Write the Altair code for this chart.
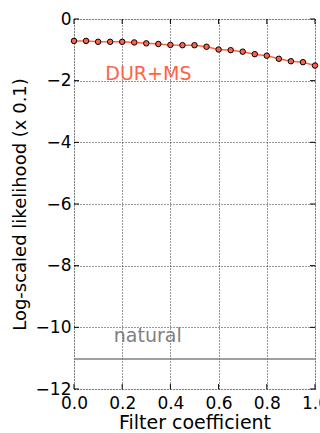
import altair as alt
import pandas as pd

filter_coef = [0.0, 0.05, 0.1, 0.15, 0.2, 0.25, 0.3, 0.35, 0.4, 0.45, 0.5,
               0.55, 0.6, 0.65, 0.7, 0.75, 0.8, 0.85, 0.9, 0.95, 1.0]
dur_ms = [-0.71, -0.71, -0.74, -0.74, -0.74, -0.76, -0.79, -0.81, -0.84, -0.85, -0.85,
          -0.90, -0.99, -1.01, -1.06, -1.14, -1.19, -1.29, -1.37, -1.40, -1.51]
natural_level = [-11.03]
labels = ["DUR+MS", "natural"]
label_x = [0.13, 0.165]
label_y = [-1.79, -10.27]
y_ticks = [0, -2, -4, -6, -8, -10, -12]
x_ticks = [0.0, 0.2, 0.4, 0.6, 0.8, 1.0]

RED = "#ff6347"
GRAY = "#808080"
FONT = "DejaVu Sans"
W, H = 241, 370

df = pd.DataFrame({"x": filter_coef, "y": dur_ms})
nat = pd.DataFrame({"y": natural_level})
lab = pd.DataFrame({"t": labels, "x": label_x, "y": label_y, "c": [RED, GRAY]})
yt = pd.DataFrame({"y": y_ticks})
xt = pd.DataFrame({"x": x_ticks})

xs = alt.Scale(domain=[0, 1], nice=False, zero=False)
ys = alt.Scale(domain=[-12, 0], nice=False, zero=False)

xaxis = alt.Axis(values=x_ticks, format=".1f", title="Filter coefficient",
                 grid=True, gridColor="black", gridDash=[1, 2], gridOpacity=0.8,
                 domain=False, ticks=False, labelFontSize=17, labelFont=FONT,
                 labelColor="black", titleFontSize=19, titleFont=FONT,
                 titleFontWeight="normal", titleColor="black", labelPadding=6,
                 titlePadding=2, labelFlush=False)
yaxis = alt.Axis(values=y_ticks, format="d", title="Log-scaled likelihood (x 0.1)",
                 grid=True, gridColor="black", gridDash=[1, 2], gridOpacity=0.8,
                 domain=False, ticks=False, labelFontSize=17, labelFont=FONT,
                 labelColor="black", titleFontSize=18, titleFont=FONT,
                 titleFontWeight="normal", titleColor="black", labelPadding=3,
                 titlePadding=6, labelFlush=False)

line = alt.Chart(df).mark_line(color=RED, strokeWidth=1.5).encode(
    x=alt.X("x:Q", scale=xs, axis=xaxis),
    y=alt.Y("y:Q", scale=ys, axis=yaxis),
)
pts = alt.Chart(df).mark_point(filled=True, fill=RED, stroke="black",
                               strokeWidth=1, size=30, opacity=1).encode(
    x=alt.X("x:Q", scale=xs),
    y=alt.Y("y:Q", scale=ys),
)
natline = alt.Chart(nat).mark_rule(color=GRAY, strokeWidth=1.5).encode(
    y=alt.Y("y:Q", scale=ys),
)
texts = alt.Chart(lab).mark_text(align="left", baseline="middle", fontSize=19,
                                 font=FONT).encode(
    x=alt.X("x:Q", scale=xs),
    y=alt.Y("y:Q", scale=ys),
    text="t:N",
    color=alt.Color("c:N", scale=None),
)

# inward tick marks on all four sides (matplotlib classic style)
tl = alt.Chart(yt).mark_rule(color="black", strokeWidth=1).encode(
    y=alt.Y("y:Q", scale=ys), x=alt.value(0), x2=alt.value(5))
tr = alt.Chart(yt).mark_rule(color="black", strokeWidth=1).encode(
    y=alt.Y("y:Q", scale=ys), x=alt.value(W - 5), x2=alt.value(W))
tb = alt.Chart(xt).mark_rule(color="black", strokeWidth=1).encode(
    x=alt.X("x:Q", scale=xs), y=alt.value(H - 5), y2=alt.value(H))
tt = alt.Chart(xt).mark_rule(color="black", strokeWidth=1).encode(
    x=alt.X("x:Q", scale=xs), y=alt.value(0), y2=alt.value(5))

chart = alt.layer(natline, line, pts, texts, tl, tr, tb, tt).properties(
    width=W, height=H,
    padding={"left": 74, "top": 19, "right": 5, "bottom": 44},
    autosize=alt.AutoSizeParams(type="none"),
).configure_view(stroke="black", strokeWidth=1.2).configure(background="white")

chart.save("out.html", embed_options={"renderer": "svg", "actions": False})
